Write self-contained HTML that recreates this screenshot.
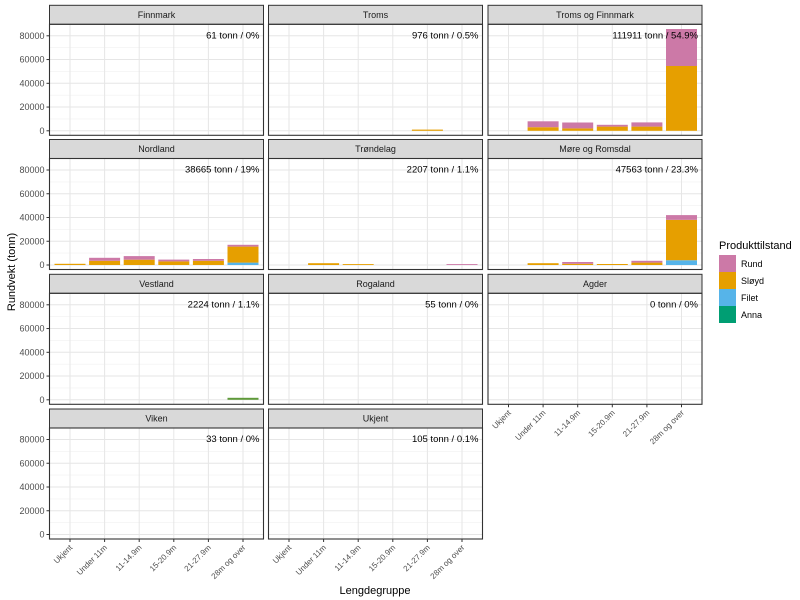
<!DOCTYPE html>
<html><head><meta charset="utf-8"><style>
html,body{margin:0;padding:0;background:#fff;}
svg{display:block;font-family:"Liberation Sans",Arial,sans-serif;}
</style></head><body>
<svg width="800" height="600" viewBox="0 0 800 600" xmlns="http://www.w3.org/2000/svg">
<defs>
<g id="grid">
<rect x="0" y="0" width="214" height="111" fill="#fff"/>
<g stroke="#f0f0f0" stroke-width="0.6">
<line x1="0" x2="214" y1="94.6" y2="94.6"/><line x1="0" x2="214" y1="70.9" y2="70.9"/>
<line x1="0" x2="214" y1="47.1" y2="47.1"/><line x1="0" x2="214" y1="23.4" y2="23.4"/>
</g>
<g stroke="#e6e6e6" stroke-width="1">
<line x1="0" x2="214" y1="106.5" y2="106.5"/><line x1="0" x2="214" y1="82.75" y2="82.75"/>
<line x1="0" x2="214" y1="59" y2="59"/><line x1="0" x2="214" y1="35.25" y2="35.25"/>
<line x1="0" x2="214" y1="11.5" y2="11.5"/>
<line y1="0" y2="111" x1="20.5" x2="20.5"/><line y1="0" y2="111" x1="55.1" x2="55.1"/>
<line y1="0" y2="111" x1="89.7" x2="89.7"/><line y1="0" y2="111" x1="124.3" x2="124.3"/>
<line y1="0" y2="111" x1="158.9" x2="158.9"/><line y1="0" y2="111" x1="193.5" x2="193.5"/>
</g>
</g>
<g id="frame">
<rect x="0" y="-19" width="214" height="19" fill="#d9d9d9" stroke="#333" stroke-width="1"/>
<rect x="0" y="0" width="214" height="111" fill="none" stroke="#333" stroke-width="1.1"/>
</g>
<g id="yax" font-size="9" fill="#4d4d4d" text-anchor="end">
<g stroke="#333"><line x1="-3" x2="0" y1="106.5" y2="106.5"/><line x1="-3" x2="0" y1="82.75" y2="82.75"/><line x1="-3" x2="0" y1="59" y2="59"/><line x1="-3" x2="0" y1="35.25" y2="35.25"/><line x1="-3" x2="0" y1="11.5" y2="11.5"/></g>
</g>
<g id="xtk" stroke="#333">
<line x1="20.5" x2="20.5" y1="111" y2="114"/><line x1="55.1" x2="55.1" y1="111" y2="114"/><line x1="89.7" x2="89.7" y1="111" y2="114"/><line x1="124.3" x2="124.3" y1="111" y2="114"/><line x1="158.9" x2="158.9" y1="111" y2="114"/><line x1="193.5" x2="193.5" y1="111" y2="114"/>
</g>
</defs>

<!-- Row 1 -->
<g transform="translate(49.5,24.3)">
<use href="#grid"/>
<use href="#frame"/><text x="107" y="-6.5" font-size="9" text-anchor="middle" fill="#1a1a1a">Finnmark</text>
<text x="210" y="14" font-size="9.5" text-anchor="end">61 tonn / 0%</text>
<use href="#yax"/>
<g font-size="9" fill="#4d4d4d" text-anchor="end"><text x="-5" y="109.5">0</text><text x="-5" y="85.75">20000</text><text x="-5" y="62">40000</text><text x="-5" y="38.25">60000</text><text x="-5" y="14.5">80000</text></g>
</g>
<g transform="translate(268.5,24.3)">
<use href="#grid"/>
<rect x="143.4" y="105.3" width="31" height="1.2" fill="#E69F00"/>
<use href="#frame"/><text x="107" y="-6.5" font-size="9" text-anchor="middle" fill="#1a1a1a">Troms</text>
<text x="210" y="14" font-size="9.5" text-anchor="end">976 tonn / 0.5%</text>
</g>
<g transform="translate(488,24.3)">
<use href="#grid"/>
<rect x="39.6" y="102.9" width="31" height="3.6" fill="#E69F00"/><rect x="39.6" y="97" width="31" height="5.9" fill="#CC79A7"/>
<rect x="74.2" y="104.1" width="31" height="2.4" fill="#E69F00"/><rect x="74.2" y="98.2" width="31" height="5.9" fill="#CC79A7"/>
<rect x="108.8" y="102.3" width="31" height="4.2" fill="#E69F00"/><rect x="108.8" y="100.5" width="31" height="1.8" fill="#CC79A7"/>
<rect x="143.4" y="102.3" width="31" height="4.2" fill="#E69F00"/><rect x="143.4" y="98.1" width="31" height="4.2" fill="#CC79A7"/>
<rect x="178" y="41.7" width="31" height="64.8" fill="#E69F00"/><rect x="178" y="4.7" width="31" height="37" fill="#CC79A7"/>
<use href="#frame"/><text x="107" y="-6.5" font-size="9" text-anchor="middle" fill="#1a1a1a">Troms og Finnmark</text>
<text x="210" y="14" font-size="9.5" text-anchor="end">111911 tonn / 54.9%</text>
</g>

<!-- Row 2 -->
<g transform="translate(49.5,158.5)">
<use href="#grid"/>
<rect x="5" y="105.3" width="31" height="1.2" fill="#E69F00"/>
<rect x="39.6" y="102.3" width="31" height="4.2" fill="#E69F00"/><rect x="39.6" y="99.3" width="31" height="3" fill="#CC79A7"/>
<rect x="74.2" y="101.2" width="31" height="5.3" fill="#E69F00"/><rect x="74.2" y="97.6" width="31" height="3.6" fill="#CC79A7"/>
<rect x="108.8" y="102.9" width="31" height="3.6" fill="#E69F00"/><rect x="108.8" y="101.1" width="31" height="1.8" fill="#CC79A7"/>
<rect x="143.4" y="102.3" width="31" height="4.2" fill="#E69F00"/><rect x="143.4" y="100.5" width="31" height="1.8" fill="#CC79A7"/>
<rect x="178" y="104.1" width="31" height="2.4" fill="#56B4E9"/><rect x="178" y="88.1" width="31" height="16" fill="#E69F00"/><rect x="178" y="86.3" width="31" height="1.8" fill="#CC79A7"/>
<use href="#frame"/><text x="107" y="-6.5" font-size="9" text-anchor="middle" fill="#1a1a1a">Nordland</text>
<text x="210" y="14" font-size="9.5" text-anchor="end">38665 tonn / 19%</text>
<use href="#yax"/>
<g font-size="9" fill="#4d4d4d" text-anchor="end"><text x="-5" y="109.5">0</text><text x="-5" y="85.75">20000</text><text x="-5" y="62">40000</text><text x="-5" y="38.25">60000</text><text x="-5" y="14.5">80000</text></g>
</g>
<g transform="translate(268.5,158.5)">
<use href="#grid"/>
<rect x="39.6" y="104.7" width="31" height="1.8" fill="#E69F00"/>
<rect x="74.2" y="105.6" width="31" height="0.9" fill="#E69F00"/>
<rect x="178" y="105.6" width="31" height="0.9" fill="#CC79A7"/>
<use href="#frame"/><text x="107" y="-6.5" font-size="9" text-anchor="middle" fill="#1a1a1a">Trøndelag</text>
<text x="210" y="14" font-size="9.5" text-anchor="end">2207 tonn / 1.1%</text>
</g>
<g transform="translate(488,158.5)">
<use href="#grid"/>
<rect x="39.6" y="104.7" width="31" height="1.8" fill="#E69F00"/>
<rect x="74.2" y="105.3" width="31" height="1.2" fill="#E69F00"/><rect x="74.2" y="103.5" width="31" height="1.8" fill="#CC79A7"/>
<rect x="108.8" y="105.5" width="31" height="1" fill="#E69F00"/>
<rect x="143.4" y="104.1" width="31" height="2.4" fill="#E69F00"/><rect x="143.4" y="102.3" width="31" height="1.8" fill="#CC79A7"/>
<rect x="178" y="101.75" width="31" height="4.75" fill="#56B4E9"/><rect x="178" y="61.35" width="31" height="40.4" fill="#E69F00"/><rect x="178" y="56.6" width="31" height="4.75" fill="#CC79A7"/>
<use href="#frame"/><text x="107" y="-6.5" font-size="9" text-anchor="middle" fill="#1a1a1a">Møre og Romsdal</text>
<text x="210" y="14" font-size="9.5" text-anchor="end">47563 tonn / 23.3%</text>
</g>

<!-- Row 3 -->
<g transform="translate(49.5,293.3)">
<use href="#grid"/>
<rect x="178" y="104.5" width="31" height="2" fill="#5f9a3a"/>
<use href="#frame"/><text x="107" y="-6.5" font-size="9" text-anchor="middle" fill="#1a1a1a">Vestland</text>
<text x="210" y="14" font-size="9.5" text-anchor="end">2224 tonn / 1.1%</text>
<use href="#yax"/>
<g font-size="9" fill="#4d4d4d" text-anchor="end"><text x="-5" y="109.5">0</text><text x="-5" y="85.75">20000</text><text x="-5" y="62">40000</text><text x="-5" y="38.25">60000</text><text x="-5" y="14.5">80000</text></g>
</g>
<g transform="translate(268.5,293.3)">
<use href="#grid"/>
<use href="#frame"/><text x="107" y="-6.5" font-size="9" text-anchor="middle" fill="#1a1a1a">Rogaland</text>
<text x="210" y="14" font-size="9.5" text-anchor="end">55 tonn / 0%</text>
</g>
<g transform="translate(488,293.3)">
<use href="#grid"/>
<use href="#frame"/><text x="107" y="-6.5" font-size="9" text-anchor="middle" fill="#1a1a1a">Agder</text>
<text x="210" y="14" font-size="9.5" text-anchor="end">0 tonn / 0%</text>
<use href="#xtk"/>
<g font-size="8" fill="#4d4d4d" text-anchor="end">
<text transform="translate(23.5,120) rotate(-45)">Ukjent</text>
<text transform="translate(58.1,120) rotate(-45)">Under 11m</text>
<text transform="translate(92.7,120) rotate(-45)">11-14.9m</text>
<text transform="translate(127.3,120) rotate(-45)">15-20.9m</text>
<text transform="translate(161.9,120) rotate(-45)">21-27.9m</text>
<text transform="translate(196.5,120) rotate(-45)">28m og over</text>
</g>
</g>

<!-- Row 4 -->
<g transform="translate(49.5,428)">
<use href="#grid"/>
<use href="#frame"/><text x="107" y="-6.5" font-size="9" text-anchor="middle" fill="#1a1a1a">Viken</text>
<text x="210" y="14" font-size="9.5" text-anchor="end">33 tonn / 0%</text>
<use href="#yax"/>
<g font-size="9" fill="#4d4d4d" text-anchor="end"><text x="-5" y="109.5">0</text><text x="-5" y="85.75">20000</text><text x="-5" y="62">40000</text><text x="-5" y="38.25">60000</text><text x="-5" y="14.5">80000</text></g>
<use href="#xtk"/>
<g font-size="8" fill="#4d4d4d" text-anchor="end">
<text transform="translate(23.5,120) rotate(-45)">Ukjent</text>
<text transform="translate(58.1,120) rotate(-45)">Under 11m</text>
<text transform="translate(92.7,120) rotate(-45)">11-14.9m</text>
<text transform="translate(127.3,120) rotate(-45)">15-20.9m</text>
<text transform="translate(161.9,120) rotate(-45)">21-27.9m</text>
<text transform="translate(196.5,120) rotate(-45)">28m og over</text>
</g>
</g>
<g transform="translate(268.5,428)">
<use href="#grid"/>
<use href="#frame"/><text x="107" y="-6.5" font-size="9" text-anchor="middle" fill="#1a1a1a">Ukjent</text>
<text x="210" y="14" font-size="9.5" text-anchor="end">105 tonn / 0.1%</text>
<use href="#xtk"/>
<g font-size="8" fill="#4d4d4d" text-anchor="end">
<text transform="translate(23.5,120) rotate(-45)">Ukjent</text>
<text transform="translate(58.1,120) rotate(-45)">Under 11m</text>
<text transform="translate(92.7,120) rotate(-45)">11-14.9m</text>
<text transform="translate(127.3,120) rotate(-45)">15-20.9m</text>
<text transform="translate(161.9,120) rotate(-45)">21-27.9m</text>
<text transform="translate(196.5,120) rotate(-45)">28m og over</text>
</g>
</g>

<!-- Axis titles -->
<text x="375" y="594" font-size="11" text-anchor="middle">Lengdegruppe</text>
<text transform="translate(15,272) rotate(-90)" font-size="11" text-anchor="middle">Rundvekt (tonn)</text>

<!-- Legend -->
<text x="719" y="249" font-size="11">Produkttilstand</text>
<rect x="719" y="255" width="17" height="17" fill="#CC79A7"/>
<rect x="719" y="272" width="17" height="17" fill="#E69F00"/>
<rect x="719" y="289" width="17" height="17" fill="#56B4E9"/>
<rect x="719" y="306" width="17" height="17" fill="#009E73"/>
<g font-size="9"><text x="741" y="267">Rund</text><text x="741" y="284">Sløyd</text><text x="741" y="301">Filet</text><text x="741" y="318">Anna</text></g>
</svg>
</body></html>
